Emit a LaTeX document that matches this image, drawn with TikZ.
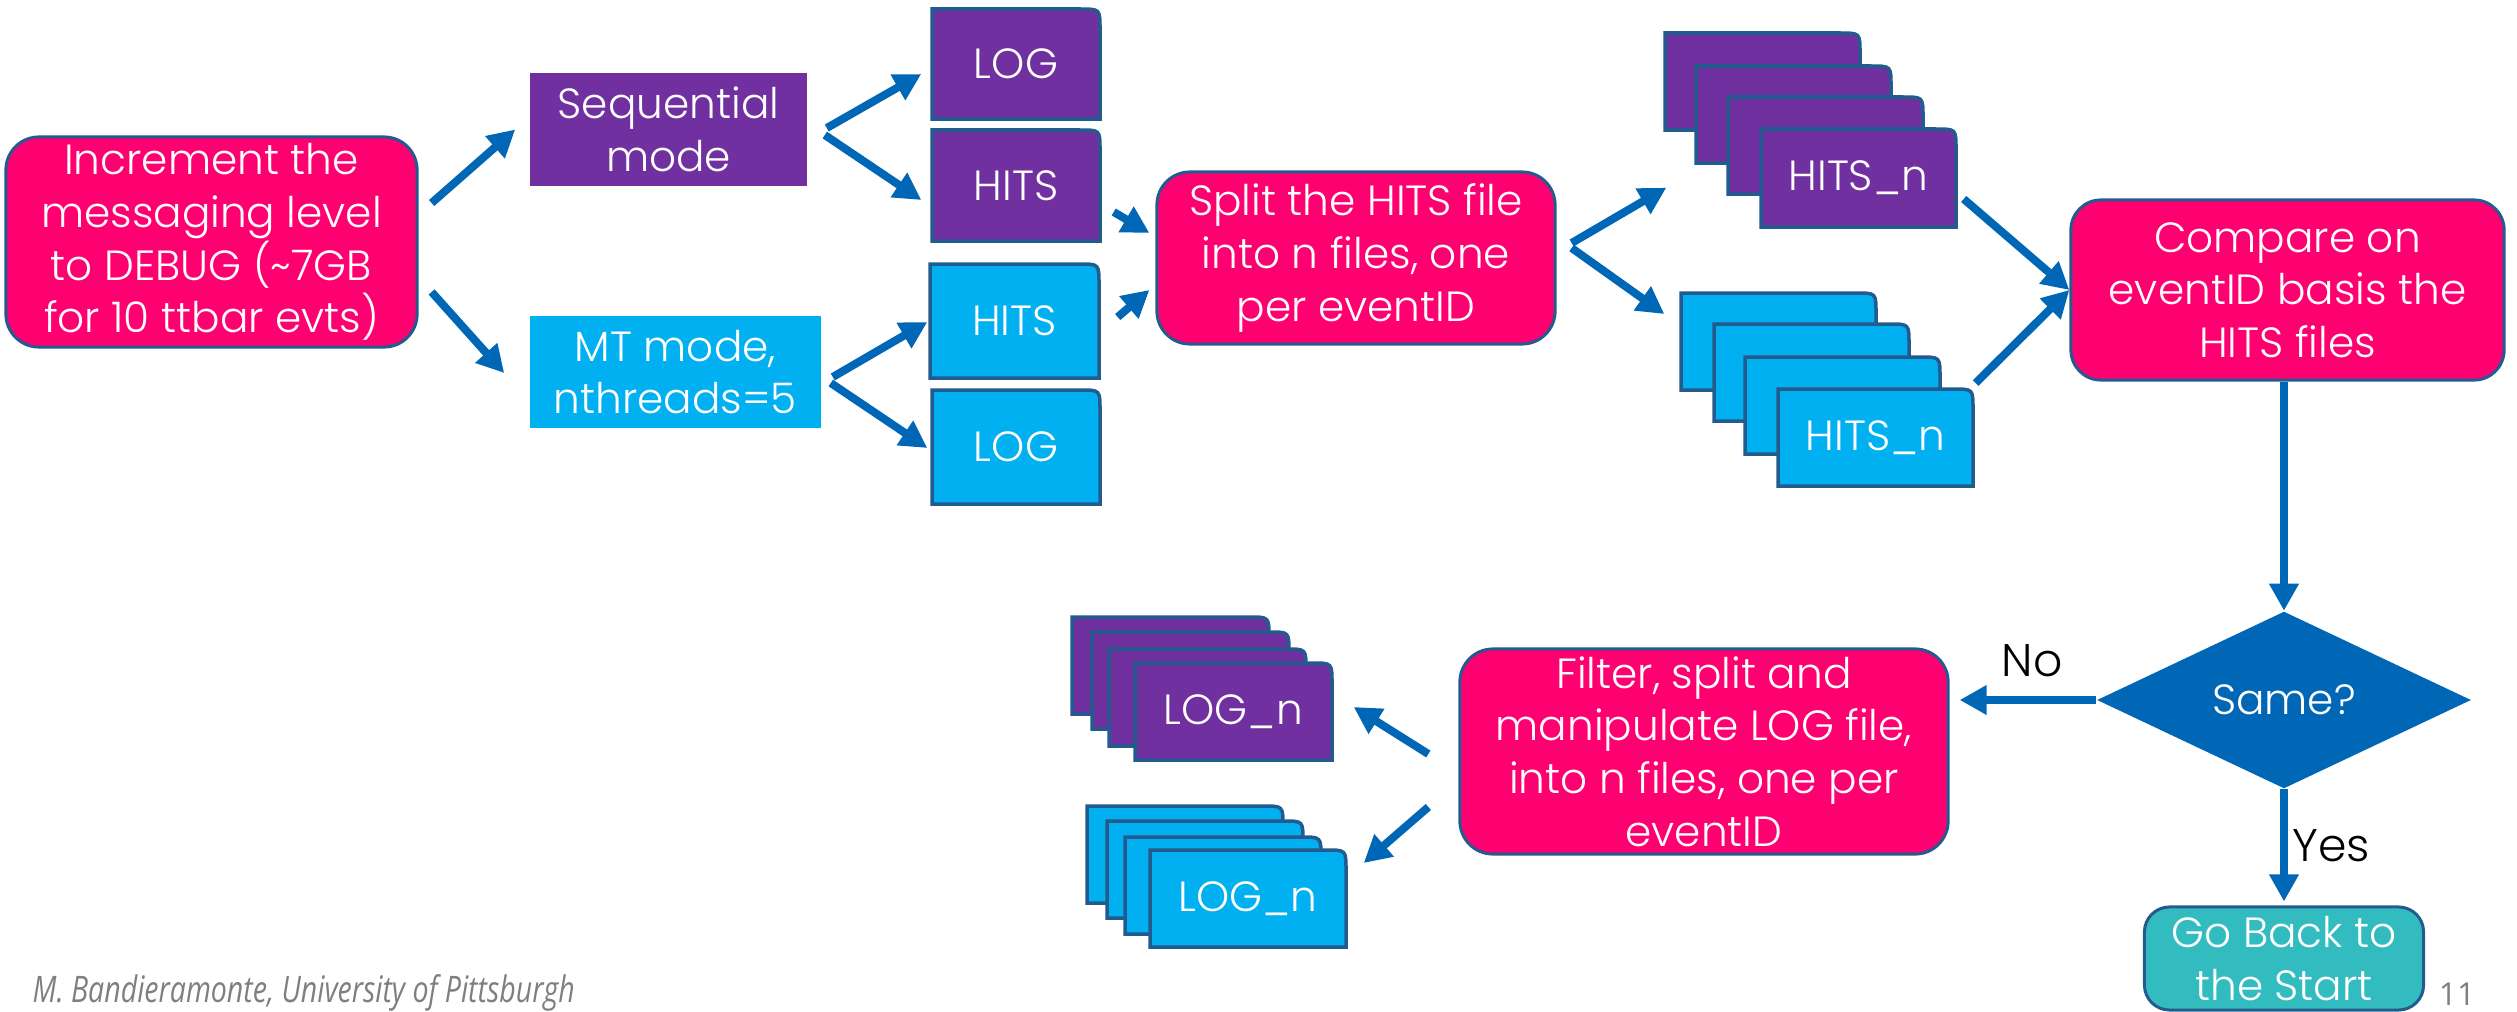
\documentclass[tikz,border=0pt]{standalone}
\usepackage{fontspec}
\setmainfont{Poppins Light}
\newfontfamily\labelfont{Poppins}
\newfontfamily\footfont[FakeStretch=0.78]{Open Sans}
\newfontfamily\numfont{Open Sans}
\usetikzlibrary{arrows.meta,shapes.geometric,calc}
\definecolor{pinkc}{HTML}{FF0070}
\definecolor{purpc}{HTML}{7030A0}
\definecolor{lblue}{HTML}{00B0F0}
\definecolor{arrowc}{HTML}{0067B6}
\definecolor{edgec}{HTML}{245B8F}
\definecolor{tealc}{HTML}{33BCC0}
\definecolor{footgray}{HTML}{7F7F7F}
\newcommand{\nodefont}{\fontsize{12pt}{15pt}\selectfont}
\newcommand{\docfile}[7]{%
  \filldraw[fill=#6, draw=edgec, line width=0.035cm]
    (#2,#3+#5) -- (#2,#3) -- (#2+#4-20,#3) .. controls (#2+#4,#3) .. (#2+#4,#3+20) -- (#2+#4,#3+#5) -- cycle;
  \node[filetext, minimum width=#4*0.01cm, minimum height=#5*0.01cm] (#1) at (#2+#4/2,#3+#5/2) {#7};
}
\tikzset{
  arr/.style={draw=arrowc, line width=0.08cm, -{Triangle[length=0.27cm,width=0.28cm]}},
  pinkbox/.style={rectangle, rounded corners=0.33cm, fill=pinkc, draw=edgec, line width=0.03cm,
    text=white, align=center, font=\nodefont, inner sep=0pt},
  plainbox/.style={rectangle, text=white, align=center, font=\nodefont, inner sep=0pt},
  filetext/.style={rectangle, text=white, align=center, font=\nodefont, inner sep=0pt},
  lbl/.style={text=black, font=\fontsize{13pt}{15pt}\selectfont, inner sep=0pt},
}
\begin{document}
\begin{tikzpicture}[x=0.01cm, y=-0.01cm]
\useasboundingbox (0,0) rectangle (2517,1012);

% left column
\node[pinkbox, minimum width=4.11cm, minimum height=2.10cm] (inc) at (211.5,242)
  {Increment the\\messaging level\\to DEBUG (\textasciitilde7GB\\for 10 ttbar evts)};
\node[plainbox, fill=purpc, minimum width=2.77cm, minimum height=1.13cm] (seq) at (668.5,129.5) {Sequential\\mode};
\node[plainbox, fill=lblue, minimum width=2.91cm, minimum height=1.12cm] (mt) at (675.5,372) {MT mode,\\nthreads=5};

% single files
\docfile{logP}{932}{9}{168}{110}{purpc}{LOG}
\docfile{hitsP}{932}{130}{168}{111}{purpc}{HITS}
\docfile{hitsB}{930}{264}{169}{114}{lblue}{HITS}
\docfile{logB}{932}{390}{168}{114}{lblue}{LOG}

% split
\node[pinkbox, minimum width=3.98cm, minimum height=1.72cm] (split) at (1356,258)
  {Split the HITS file\\into n files, one\\per eventID};

% HITS_n stacks
\docfile{hp1}{1665}{33}{195}{97}{purpc}{}
\docfile{hp2}{1696}{66}{195}{97}{purpc}{}
\docfile{hp3}{1728}{97}{195}{97}{purpc}{}
\docfile{hp4}{1761}{129}{195}{98}{purpc}{HITS\_n}
\docfile{hb1}{1681}{293}{195}{97}{lblue}{}
\docfile{hb2}{1714}{324}{195}{97}{lblue}{}
\docfile{hb3}{1745}{357}{195}{97}{lblue}{}
\docfile{hb4}{1778}{389}{195}{97}{lblue}{HITS\_n}

% compare
\node[pinkbox, rounded corners=0.3cm, minimum width=4.33cm, minimum height=1.80cm] (cmp) at (2287.5,290)
  {Compare on\\eventID basis the\\HITS files};

% decision
\node[diamond, fill=arrowc, minimum width=3.74cm, minimum height=1.77cm, inner sep=0pt, aspect=2.1,
  text=white, font=\nodefont] (same) at (2284,700) {Same?};

% filter
\node[pinkbox, minimum width=4.88cm, minimum height=2.05cm] (filter) at (1704,751.5)
  {Filter, split and\\manipulate LOG file,\\into n files, one per\\eventID};

% go back
\node[pinkbox, fill=tealc, rounded corners=0.25cm, minimum width=2.79cm, minimum height=1.03cm] (gb) at (2284,958.5)
  {Go Back to\\the Start};

% LOG_n stacks
\docfile{lp1}{1072}{617}{197}{97}{purpc}{}
\docfile{lp2}{1092}{632}{197}{97}{purpc}{}
\docfile{lp3}{1109}{649}{197}{97}{purpc}{}
\docfile{lp4}{1135}{663}{197}{97}{purpc}{LOG\_n}
\docfile{lb1}{1087}{806}{196}{97}{lblue}{}
\docfile{lb2}{1107}{821}{196}{97}{lblue}{}
\docfile{lb3}{1125}{837}{196}{97}{lblue}{}
\docfile{lb4}{1150}{850}{196}{97}{lblue}{LOG\_n}

% arrows
\draw[arr] ([shift={(13,-39)}]inc.east) -- ([shift={(-14,0)}]seq.west);
\draw[arr] ([shift={(13,50)}]inc.east) -- ([shift={(-25,1)}]mt.west);
\draw[arr] ([shift={(19,-1.5)}]seq.east) -- ([shift={(-10,10)}]logP.west);
\draw[arr] ([shift={(17,5.5)}]seq.east) -- ([shift={(-10,14.5)}]hitsP.west);
\draw[arr] ([shift={(11,5)}]mt.east) -- ([shift={(-2,1)}]hitsB.west);
\draw[arr] ([shift={(9,11)}]mt.east) -- ([shift={(-4,1)}]logB.west);
\draw[arr] ([shift={(13,26.5)}]hitsP.east) -- ([shift={(-6,-25)}]split.west);
\draw[arr] ([shift={(18,-4)}]hitsB.east) -- ([shift={(-6,32)}]split.west);
\draw[arr] ([shift={(15,-15)}]split.east) -- ([shift={(2,57)}]hp1.south west);
\draw[arr] ([shift={(15,-10)}]split.east) -- ([shift={(-16,-27.5)}]hb1.west);
\draw[arr] ([shift={(7,21)}]hp4.east) -- (cmp.west);
\draw[arr] ([shift={(2,-54.5)}]hb4.east) -- (cmp.west);
\draw[arr] (cmp.south -| same.north) -- (same.north);
\draw[arr] (same.west) -- ($(filter.east |- same.west)+(10,0)$);
\draw[arr] (same.south) -- ([shift={(0,-4)}]gb.north);
\draw[arr] ([shift={(-30,2.5)}]filter.west) -- ([shift={(21,-4.5)}]lp4.east);
\draw[arr] ([shift={(-30,55.5)}]filter.west) -- ([shift={(17,-35.5)}]lb4.east);

% labels
\node[lbl] (no) at (2032,661) {No};
\node[lbl] (yes) at (2331,846) {Yes};

% footer
\node[anchor=base west, inner sep=0pt, text=footgray, font=\footfont\itshape\fontsize{10.4pt}{12pt}\selectfont] (foot) at (32,1002)
  {M. Bandieramonte, University of Pittsburgh};
\node[anchor=base, inner sep=0pt, text=footgray, font=\numfont\fontsize{9pt}{11pt}\selectfont] (pg) at (2457,1005) {11};
\end{tikzpicture}
\end{document}
